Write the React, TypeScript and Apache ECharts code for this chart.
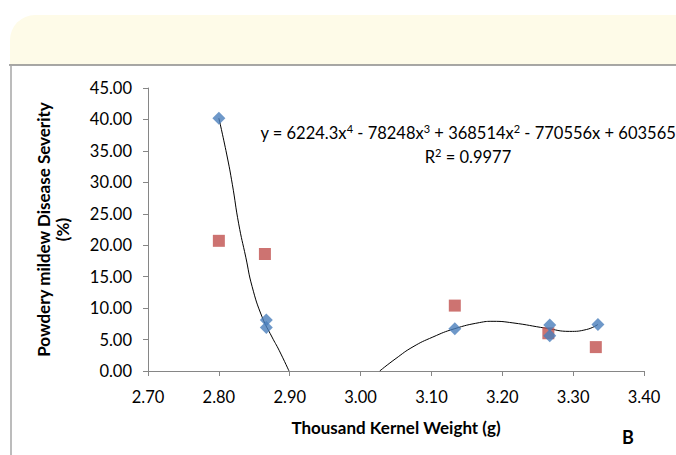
import React, { useEffect, useRef } from "react";
import * as echarts from "echarts";

// Blue diamonds (series with polynomial trendline)
const blueX = [2.8, 2.867, 2.867, 3.133, 3.267, 3.267, 3.335];
const blueY = [40.2, 8.1, 6.9, 6.7, 7.3, 5.6, 7.4];
// Red squares
const redX = [2.8, 2.865, 3.133, 3.265, 3.332];
const redY = [20.7, 18.6, 10.4, 6.0, 3.8];
// Trendline (clipped at 0 by the axis)
const trendAX = [2.8, 2.811, 2.819, 2.828, 2.838, 2.847, 2.861, 2.875, 2.885, 2.899];
const trendAY = [40.2, 34.5, 29.7, 23.4, 18.1, 13.4, 8.6, 5.4, 3.3, 0];
const trendBX = [3.027, 3.05, 3.074, 3.102, 3.132, 3.168, 3.187, 3.215, 3.262, 3.295, 3.319, 3.335];
const trendBY = [0, 2.0, 3.85, 5.4, 6.7, 7.7, 7.9, 7.65, 6.8, 6.3, 6.6, 7.4];

const xTicks = { min: 2.7, max: 3.4, step: 0.1 };
const yTicks = { min: 0, max: 45, step: 5 };

const FONT = "Lato";

export default function App() {
  const ref = useRef<HTMLDivElement>(null);
  useEffect(() => {
    if (!ref.current) return;
    const chart = echarts.init(ref.current, null, { renderer: "svg" });
    const zip = (xs: number[], ys: number[]) => xs.map((x, i) => [x, ys[i]]);
    chart.setOption({
      animation: false,
      backgroundColor: "#ffffff",
      textStyle: { fontFamily: FONT },
      grid: { left: 148, right: 32, top: 88, bottom: 84, containLabel: false },
      xAxis: {
        type: "value",
        min: xTicks.min,
        max: xTicks.max,
        interval: xTicks.step,
        splitLine: { show: false },
        axisLine: { lineStyle: { color: "#868686", width: 1 } },
        axisTick: { show: true, inside: false, length: 5, lineStyle: { color: "#868686" } },
        axisLabel: {
          color: "#000",
          fontSize: 16.5,
          fontFamily: FONT,
          margin: 17,
          formatter: (v: number) => v.toFixed(2),
        },
        name: "Thousand Kernel Weight (g)",
        nameLocation: "middle",
        nameGap: 48,
        nameTextStyle: { color: "#000", fontSize: 17, fontWeight: "bold", fontFamily: FONT },
      },
      yAxis: {
        type: "value",
        min: yTicks.min,
        max: yTicks.max,
        interval: yTicks.step,
        splitLine: { show: false },
        axisLine: { show: true, lineStyle: { color: "#868686", width: 1 } },
        axisTick: { show: true, inside: false, length: 5, lineStyle: { color: "#868686" } },
        axisLabel: {
          color: "#000",
          fontSize: 16.5,
          fontFamily: FONT,
          margin: 16,
          formatter: (v: number) => v.toFixed(2),
        },
        name: "Powdery mildew Disease Severity\n(%)",
        nameLocation: "middle",
        nameGap: 76,
        nameRotate: 90,
        nameTextStyle: {
          color: "#000",
          fontSize: 17,
          fontWeight: "bold",
          fontFamily: FONT,
          lineHeight: 19,
          align: "center",
        },
      },
      series: [
        {
          type: "line",
          data: zip(trendAX, trendAY),
          smooth: true,
          showSymbol: false,
          symbol: "none",
          lineStyle: { color: "#000", width: 1 },
          z: 1,
        },
        {
          type: "line",
          data: zip(trendBX, trendBY),
          smooth: true,
          showSymbol: false,
          symbol: "none",
          lineStyle: { color: "#000", width: 1 },
          z: 1,
        },
        {
          type: "scatter",
          data: zip(blueX, blueY),
          symbol: "diamond",
          symbolSize: [13, 13],
          itemStyle: { color: "#4A7EBB" },
          z: 3,
        },
        {
          type: "scatter",
          data: zip(redX, redY),
          symbol: "rect",
          symbolSize: 12,
          itemStyle: { color: "#C0504D" },
          z: 2,
        },
      ],
      graphic: [
        {
          type: "rect",
          shape: { x: 10, y: 15, width: 720, height: 50, r: [25, 25, 0, 0] },
          style: { fill: "#FEFBE8" },
          z: -10,
        },
        {
          type: "line",
          shape: { x1: 9, y1: 65, x2: 676, y2: 65 },
          style: { stroke: "#8a8a8a", lineWidth: 1.5 },
        },
        {
          type: "line",
          shape: { x1: 11, y1: 66, x2: 11, y2: 455 },
          style: { stroke: "#a6a6a6", lineWidth: 1.5 },
        },
        {
          type: "text",
          x: 468,
          y: 133,
          style: {
            text: "y = 6224.3x{s|4} - 78248x{s|3} + 368514x{s|2} - 770556x + 603565",
            fill: "#000",
            fontFamily: FONT,
            fontSize: 16.5,
            align: "center",
            verticalAlign: "middle",
            rich: { s: { fontSize: 11, fontFamily: FONT, padding: [0, 0, 10, 0], fill: "#000" } },
          },
        },
        {
          type: "text",
          x: 468,
          y: 157,
          style: {
            text: "R{s|2} = 0.9977",
            fill: "#000",
            fontFamily: FONT,
            fontSize: 16.5,
            align: "center",
            verticalAlign: "middle",
            rich: { s: { fontSize: 11, fontFamily: FONT, padding: [0, 0, 10, 0], fill: "#000" } },
          },
        },
        {
          type: "text",
          x: 628,
          y: 437,
          style: {
            text: "B",
            fill: "#000",
            fontFamily: FONT,
            fontSize: 18,
            fontWeight: "bold",
            align: "center",
            verticalAlign: "middle",
          },
        },
      ],
    });
    return () => chart.dispose();
  }, []);
  return (
    <div
      ref={ref}
      style={{ position: "absolute", left: 0, top: 0, width: 676, height: 455 }}
    />
  );
}
